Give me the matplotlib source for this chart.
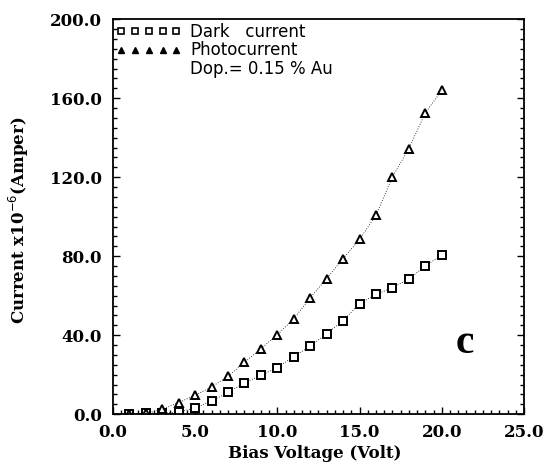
import matplotlib
matplotlib.use("Agg")
import matplotlib.pyplot as plt
from matplotlib.lines import Line2D
from matplotlib.ticker import MultipleLocator, FormatStrFormatter

voltage = [1, 2, 3, 4, 5, 6, 7, 8, 9, 10, 11, 12, 13, 14, 15, 16, 17, 18, 19, 20]
dark = [0.0, 0.5, 0.5, 1.0, 3.2, 6.7, 11.0, 15.9, 19.7, 23.6, 29.2, 34.4, 40.8,
        47.4, 56.0, 60.6, 64.1, 68.4, 75.1, 80.5]
photo = [0.0, 0.5, 2.4, 5.9, 9.6, 13.8, 19.2, 26.2, 33.2, 40.2, 48.4, 58.9, 68.7,
         78.8, 88.5, 100.8, 120.2, 134.5, 152.6, 164.0]
legend_labels = ["Dark   current", "Photocurrent", "Dop.= 0.15 % Au"]

serif = "DejaVu Serif"
sans = "DejaVu Sans"

fig = plt.figure(figsize=(5.43, 4.68), dpi=100)
ax = fig.add_axes([0.208, 0.115, 0.757, 0.844])

ax.plot(voltage, dark, color="black", linestyle=(0, (1, 2)), linewidth=0.6,
        marker="s", markersize=6, markerfacecolor="white", markeredgecolor="black",
        markeredgewidth=1.4)
ax.plot(voltage, photo, color="black", linestyle=(0, (1, 2)), linewidth=0.6,
        marker="^", markersize=6, markerfacecolor="white", markeredgecolor="black",
        markeredgewidth=1.4)

ax.set_xlim(0, 25)
ax.set_ylim(0, 200)
ax.xaxis.set_major_locator(MultipleLocator(5))
ax.xaxis.set_minor_locator(MultipleLocator(0.5))
ax.yaxis.set_major_locator(MultipleLocator(40))
ax.yaxis.set_minor_locator(MultipleLocator(5))
ax.xaxis.set_major_formatter(FormatStrFormatter("%.1f"))
ax.yaxis.set_major_formatter(FormatStrFormatter("%.1f"))
ax.tick_params(which="both", direction="in", top=False, right=True, width=1)
ax.tick_params(which="major", length=5, labelsize=12)
ax.tick_params(axis="x", which="major", pad=7)
ax.tick_params(axis="y", which="major", pad=8)
ax.tick_params(which="minor", length=3)
for lab in ax.get_xticklabels() + ax.get_yticklabels():
    lab.set_family(serif)
    lab.set_fontweight("bold")
for s in ax.spines.values():
    s.set_linewidth(1.3)

ax.set_xlabel("Bias Voltage (Volt)", family=serif, fontweight="bold", fontsize=12)
ax.xaxis.set_label_coords(0.49, -0.078)
ax.set_ylabel("Current x10$^{-6}$(Amper)", family=serif, fontweight="bold", fontsize=12)
ax.yaxis.set_label_coords(-0.2, 0.49)

handles = [
    Line2D([], [], linestyle="none", marker="s", markersize=4, markerfacecolor="white",
           markeredgecolor="black", markeredgewidth=1.2),
    Line2D([], [], linestyle="none", marker="^", markersize=4, markerfacecolor="black",
           markeredgecolor="black", markeredgewidth=1),
    Line2D([], [], linestyle="none"),
]
leg = ax.legend(handles, legend_labels, loc="upper left",
                numpoints=5, handlelength=3.9, handletextpad=0.55, frameon=False,
                borderaxespad=0.0, borderpad=0.2, labelspacing=0.05,
                prop={"family": sans, "size": 12})

ax.text(21.4, 36, "c", family="Liberation Serif", fontweight="bold", fontsize=30,
        ha="center", va="center")

fig.savefig("out.png", dpi=100)
